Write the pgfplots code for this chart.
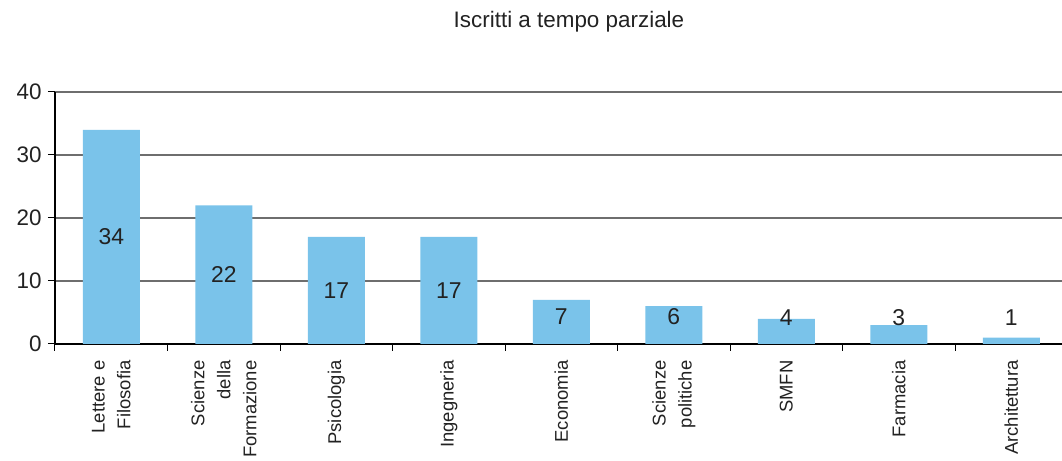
\documentclass[border=0pt]{standalone}
\usepackage{pgfplots}
\pgfplotsset{compat=1.18}
\usepackage{pgfplotstable}
\usepackage{fontspec}
\setmainfont{Liberation Sans}
\definecolor{barblue}{HTML}{7AC3EA}
\definecolor{gridgray}{HTML}{6E6E6E}
\definecolor{txt}{HTML}{222222}

% iscritti a tempo parziale per facolta
\pgfplotstableread{
x v
0 34
1 22
2 17
3 17
4 7
5 6
6 4
7 3
8 1
}\iscritti

% posizione verticale delle etichette (ly) e valore mostrato (v)
\pgfplotstableread{
x ly v
0 17 34
1 11 22
2 8.5 17
3 8.5 17
4 4.3 7
5 4.3 6
6 4.2 4
7 4.2 3
8 4.2 1
}\etichette

\begin{document}
\begin{tikzpicture}[x=1bp,y=1bp]
\useasboundingbox (-55,-117) rectangle (1007,344);
\begin{axis}[
    at={(0,0)}, anchor=south west,
    scale only axis, width=1007bp, height=252bp,
    xmin=-0.5, xmax=8.45, ymin=0, ymax=40,
    axis x line*=bottom, axis y line*=left,
    axis line style={black, line width=1.2bp},
    ytick={0,10,20,30,40},
    ymajorgrids, grid style={gridgray, line width=1.3bp},
    xtick={0,...,8},
    xticklabels={{Lettere e\\Filosofia},{Scienze\\della\\Formazione},Psicologia,Ingegneria,Economia,{Scienze\\politiche},SMFN,Farmacia,Architettura},
    major x tick style={draw=none},
    minor xtick={-0.5,0.5,...,7.5},
    tick align=outside, major tick length=7bp, minor tick length=7bp,
    tick style={black, line width=1bp},
    /pgf/number format/assume math mode=true,
    yticklabel style={font=\fontsize{22.5}{22.5}\selectfont, text=txt, xshift=-3bp},
    xticklabel style={rotate=90, anchor=east, align=right, font=\fontsize{18.5}{26}\selectfont, text=txt, xshift=-6bp},
    title={Iscritti a tempo parziale},
    title style={at={(0.5104,1)}, anchor=center, yshift=64bp, font=\fontsize{22.5}{22.5}\selectfont, text=txt},
]
\addplot[ybar, bar width=57bp, bar shift=0pt, fill=barblue, draw=none] table[x=x, y=v] {\iscritti};
\addplot[draw=none, mark=none, nodes near coords, point meta=explicit symbolic,
    every node near coord/.append style={anchor=center, font=\fontsize{23}{23}\selectfont, text=txt}]
    table[x=x, y=ly, meta=v] {\etichette};
\end{axis}
\end{tikzpicture}
\end{document}
